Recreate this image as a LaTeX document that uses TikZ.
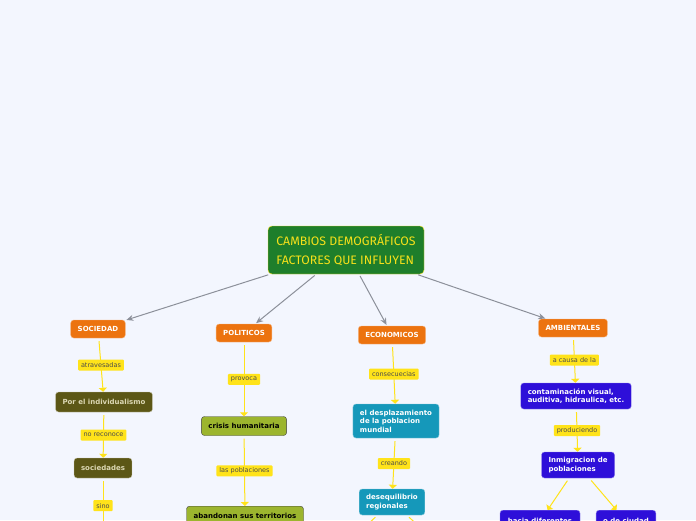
\documentclass[tikz,border=0pt]{standalone}
\usepackage{fontspec}
\setmainfont{DejaVu Sans}
\newfontfamily\titlefont{Fira Sans}
\usetikzlibrary{arrows.meta}
\definecolor{pagebg}{RGB}{243,246,254}
\definecolor{titlegreen}{RGB}{30,126,43}
\definecolor{titleyellow}{RGB}{247,225,26}
\definecolor{catorange}{RGB}{236,115,15}
\definecolor{olivedark}{RGB}{92,87,22}
\definecolor{olivetext}{RGB}{220,216,180}
\definecolor{limegreen}{RGB}{156,181,46}
\definecolor{econblue}{RGB}{21,152,186}
\definecolor{envpurple}{RGB}{46,15,217}
\definecolor{tagyellow}{RGB}{255,227,26}
\definecolor{arrowgray}{RGB}{140,144,154}
\begin{document}
\begin{tikzpicture}[x=1pt,y=-1pt,
  base/.style={rounded corners=3pt,align=left,inner xsep=7pt,inner ysep=3pt,font=\fontsize{7}{8.5}\selectfont\bfseries},
  catbox/.style={base,fill=catorange,draw=catorange!55!white,text=white,minimum height=18pt},
  olivebox/.style={base,fill=olivedark,draw=olivedark!35!white,text=olivetext,minimum height=20pt},
  limebox/.style={base,fill=limegreen,draw=black!75,text=black,minimum height=19pt},
  econbox/.style={base,fill=econblue,draw=econblue!55!white,text=white},
  envbox/.style={base,fill=envpurple,draw=envpurple!55!white,text=white},
  tag/.style={fill=tagyellow,text=black!70,font=\fontsize{6.5}{7}\selectfont,inner xsep=3pt,inner ysep=2pt,minimum height=11pt,rounded corners=1pt},
  link/.style={draw=tagyellow,line width=1pt,shorten <=3pt,-{Triangle[width=8pt,length=4pt]}},
  branch/.style={draw=arrowgray,line width=1pt,shorten <=2pt,shorten >=1pt,-{Stealth[length=7pt,width=6pt]}}
]
\useasboundingbox[fill=pagebg] (0,0) rectangle (696,520);
\node[fill=titlegreen,draw=titleyellow,text=titleyellow,rounded corners=4pt,minimum width=156pt,minimum height=48pt,align=left,font=\titlefont\fontsize{12.3}{19}\selectfont] (title) at (346,250) {CAMBIOS DEMOGRÁFICOS\\FACTORES QUE INFLUYEN};
% categorias
\node[catbox] (soc) at (98,329) {SOCIEDAD};
\node[catbox] (pol) at (244,333) {POLITICOS};
\node[catbox] (eco) at (392,335) {ECONOMICOS};
\node[catbox] (amb) at (573,328) {AMBIENTALES};
% sociedad
\node[olivebox] (indiv) at (104,402) {Por el individualismo};
\node[olivebox] (socs) at (103,468) {sociedades};
\coordinate (socend) at (103,533);
% politicos
\node[limebox] (crisis) at (244,426) {crisis humanitaria};
\node[limebox,anchor=north,minimum height=19pt,minimum width=117pt,align=center] (aband) at (245,506) {abandonan sus territorios};
% economicos
\node[econbox,minimum height=34pt] (despl) at (396,421) {el desplazamiento\\de la poblacion\\mundial};
\node[econbox,minimum height=26pt] (deseq) at (392,502) {desequilibrio\\regionales};
\coordinate (deseqa) at (345,545);
\coordinate (deseqb) at (440,545);
% ambientales
\node[envbox,minimum height=26pt] (contam) at (576,396) {contaminación visual,\\auditiva, hidraulica, etc.};
\node[envbox,minimum height=26pt] (inmig) at (578,465) {Inmigracion de\\poblaciones};
\node[envbox,anchor=north,minimum height=22pt,minimum width=80pt] (hacia) at (540,510) {hacia diferentes};
\node[envbox,anchor=north,minimum height=22pt,minimum width=59pt] (ciudad) at (626,510) {o de ciudad};
% flechas
\draw[branch] (title) -- (soc);
\draw[branch] (title) -- (pol);
\draw[branch] (title) -- (eco);
\draw[branch] (title) -- (amb);
\draw[link] (soc) -- node[tag]{atravesadas} (indiv);
\draw[link] (indiv) -- node[tag]{no reconoce} (socs);
\draw[link] (socs) -- node[tag]{sino} (socend);
\draw[link] (pol) -- node[tag]{provoca} (crisis);
\draw[link] (crisis) -- node[tag]{las poblaciones} (aband);
\draw[link] (eco) -- node[tag]{consecuecias} (despl);
\draw[link] (despl) -- node[tag]{creando} (deseq);
\draw[link] (deseq) -- (deseqa);
\draw[link] (deseq) -- (deseqb);
\draw[link] (amb) -- node[tag]{a causa de la} (contam);
\draw[link] (contam) -- node[tag]{produciendo} (inmig);
\draw[link] (inmig) -- (hacia);
\draw[link] (inmig) -- (ciudad);
\end{tikzpicture}
\end{document}
